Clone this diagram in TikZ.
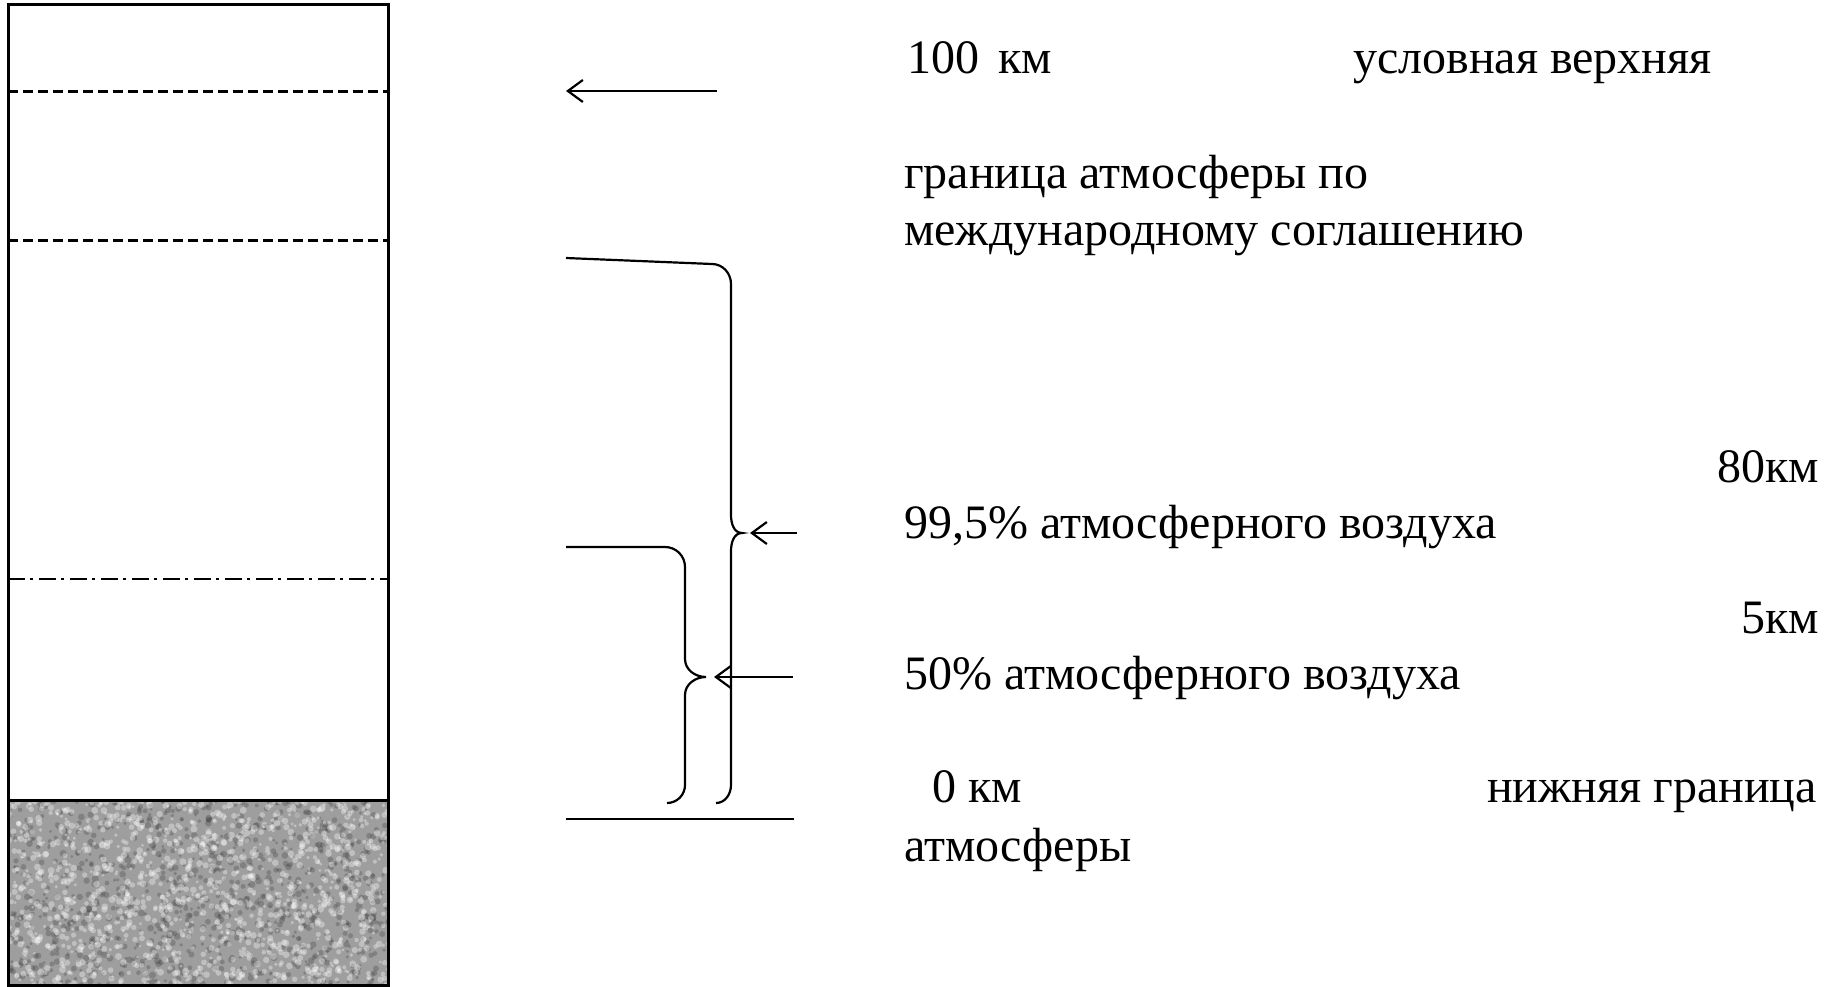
\documentclass[tikz,border=0pt]{standalone}
\usepackage{fontspec}
\setmainfont{Liberation Serif}
\usetikzlibrary{arrows.meta,positioning}

\begin{document}
\begin{tikzpicture}[x=1pt,y=-1pt,
    lbl/.style={anchor=base west,inner sep=0pt,font=\fontsize{48}{55}\selectfont},
    lblr/.style={lbl,anchor=base east},
    bracket/.style={line width=2.2pt},
    ptr/.style={line width=2.2pt,-{Straight Barb[length=15pt,width=22pt]}},
    level/.style={line width=3pt,dash pattern=on 10pt off 5pt}]
  \useasboundingbox (0,0) rectangle (1829,987);
  % ground
  \fill[black!38] (8,800) rectangle (388,985);
  \begin{scope}
    \clip (8,800) rectangle (388,985);
    \pgfmathsetseed{7}
    \foreach \i in {1,...,900}
      \fill[black!75,opacity=.3] (8+380*rnd,800+185*rnd) circle (1.5+2*rnd);
    \foreach \i in {1,...,1300}
      \fill[white,opacity=.35] (8+380*rnd,800+185*rnd) circle (1.5+2*rnd);
  \end{scope}
  % column
  \draw[level] (8,92) -- (388,92);
  \draw[level] (8,241) -- (388,241);
  \draw[line width=2.5pt,dash pattern=on 17pt off 5pt on 3pt off 6pt] (8,579) -- (388,579);
  \draw[line width=3pt] (8,800) -- (388,800);
  \draw[line width=3pt] (8,5) rectangle (388,985);

  % braces
  \coordinate (tipA) at (742,533);
  \coordinate (tipB) at (706,677);
  \draw[bracket] (566,258) -- (712,264) to[out=0,in=90] (731,284) -- (731,515)
    to[out=-90,in=180] (tipA) to[out=180,in=90] (731,551) -- (731,785)
    to[out=-90,in=0] (716,803);
  \draw[bracket] (566,547) -- (665,547) to[out=0,in=90] (685,567) -- (685,659)
    to[out=-90,in=180] (tipB) to[out=180,in=90] (685,695) -- (685,785)
    to[out=-90,in=0] (667,803);
  \draw[bracket] (566,819) -- (794,819);

  % pointers
  \coordinate (from100) at (717,91);
  \coordinate (to100) at (566,91);
  \coordinate (fromA) at (797,533);
  \coordinate (fromB) at (793,677);
  \draw[ptr] (from100) -- (to100);
  \draw[ptr,shorten >=8pt] (fromA) -- (tipA);
  \draw[ptr,shorten >=8pt] (fromB) -- (tipB);

  % labels
  \node[lbl] (top) at (907,74) {100\hspace{.4em}км};
  \node[lbl] (topr) at (1353,74) {условная верхняя};
  \node[lbl] (intl1) at (904,189) {граница атмосферы по};
  \node[lbl] (intl2) at (904,246) {международному соглашению};
  \node[lblr] (km80) at (1819,482) {80км};
  \node[lbl] (air995) at (904,538) {99,5\% атмосферного воздуха};
  \node[lblr] (km5) at (1819,633) {5км};
  \node[lbl] (air50) at (904,689) {50\% атмосферного воздуха};
  \node[lbl] (zero) at (932,802) {0 км};
  \node[lblr] (bot) at (1817,802) {нижняя граница};
  \node[lbl] (bot2) at (904,861) {атмосферы};
\end{tikzpicture}
\end{document}
